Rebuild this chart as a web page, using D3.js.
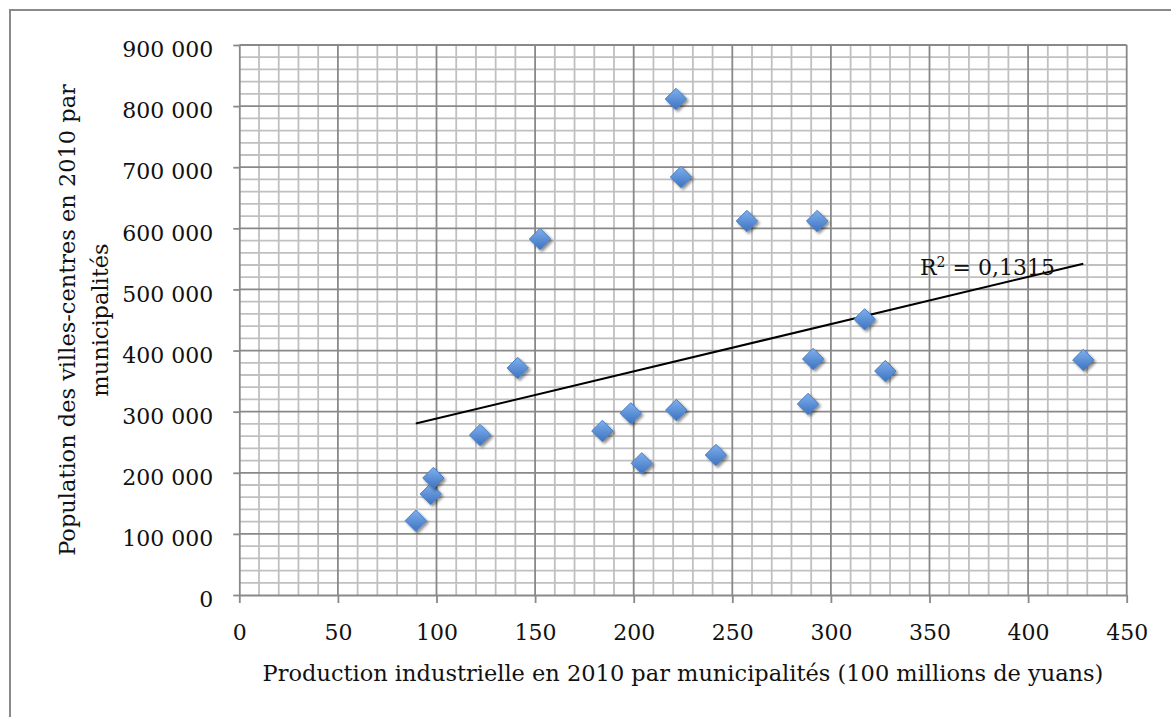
<!DOCTYPE html>
<html>
<head>
<meta charset="utf-8">
<script src="https://cdn.jsdelivr.net/npm/d3@7"></script>
<style>
  html, body { margin: 0; padding: 0; background: #ffffff; }
  svg { display: block; }
</style>
</head>
<body>
<svg id="chart" width="1171" height="717"></svg>
<script>
// ---- data ----
const production = [89.5, 97.1, 98.4, 122.1, 141.2, 152.5, 184.1, 198.5, 204.1, 221.4, 221.6, 224.0, 241.7, 257.4, 288.4, 291.0, 293.0, 317.1, 327.6, 428.0];
const population = [121600, 165300, 191500, 261800, 371500, 582600, 268400, 297300, 215500, 811700, 302700, 684000, 229100, 612000, 312600, 386200, 612000, 451100, 366500, 384500];
const xTicks = [0, 50, 100, 150, 200, 250, 300, 350, 400, 450];
const yTicks = [0, 100000, 200000, 300000, 400000, 500000, 600000, 700000, 800000, 900000];
const xTitle = "Production industrielle en 2010 par municipalités (100 millions de yuans)";
const yTitleLines = ["Population des villes-centres en 2010 par", "municipalités"];
const r2Label = ["R", "2", " = 0,1315"];

// ---- layout ----
const FONT = "'DejaVu Serif', serif";
const svg = d3.select("#chart");
const pL = 239.3, pR = 1126.7, pT = 45, pB = 595;
const x = d3.scaleLinear().domain([0, 450]).range([pL, pR]);
const y = d3.scaleLinear().domain([0, 900000]).range([pB, pT]);

// outer border (only top/left visible in frame)
svg.append("rect").attr("x", 10).attr("y", 10).attr("width", 1400).attr("height", 1000)
  .attr("fill", "none").attr("stroke", "#8a8a8a").attr("stroke-width", 2);

// defs
const defs = svg.append("defs");
const grad = defs.append("linearGradient").attr("id", "mk").attr("x1", 0).attr("y1", 0).attr("x2", 0).attr("y2", 1);
grad.append("stop").attr("offset", "0%").attr("stop-color", "#7fb0ee");
grad.append("stop").attr("offset", "100%").attr("stop-color", "#3d73c0");
const flt = defs.append("filter").attr("id", "sh").attr("x", "-50%").attr("y", "-50%").attr("width", "200%").attr("height", "200%");
flt.append("feGaussianBlur").attr("in", "SourceAlpha").attr("stdDeviation", 1.4).attr("result", "b");
flt.append("feOffset").attr("in", "b").attr("dx", 1.5).attr("dy", 2).attr("result", "o");
flt.append("feComponentTransfer").attr("in", "o").attr("result", "o2")
  .append("feFuncA").attr("type", "linear").attr("slope", 0.45);
const fm = flt.append("feMerge");
fm.append("feMergeNode").attr("in", "o2");
fm.append("feMergeNode").attr("in", "SourceGraphic");

// minor grid
const minorX = d3.range(0, 451, 10).filter(v => v % 50 !== 0);
const minorY = d3.range(0, 900001, 20000).filter(v => v % 100000 !== 0);
const grid = svg.append("g");
grid.selectAll(".mx").data(minorX).join("line")
  .attr("x1", d => x(d)).attr("x2", d => x(d)).attr("y1", pT).attr("y2", pB)
  .attr("stroke", "#c0c0c0").attr("stroke-width", 1.8);
grid.selectAll(".my").data(minorY).join("line")
  .attr("x1", pL).attr("x2", pR).attr("y1", d => y(d)).attr("y2", d => y(d))
  .attr("stroke", "#c0c0c0").attr("stroke-width", 1.8);
// major grid
grid.selectAll(".Mx").data(xTicks.slice(1)).join("line")
  .attr("x1", d => x(d)).attr("x2", d => x(d)).attr("y1", pT).attr("y2", pB)
  .attr("stroke", "#898989").attr("stroke-width", 1.8);
grid.selectAll(".My").data(yTicks.slice(1)).join("line")
  .attr("x1", pL).attr("x2", pR).attr("y1", d => y(d)).attr("y2", d => y(d))
  .attr("stroke", "#898989").attr("stroke-width", 1.8);

// axes
const fmt = v => d3.format(",")(v).replace(/,/g, " ");
const yAxis = svg.append("g").attr("transform", `translate(${pL},0)`)
  .call(d3.axisLeft(y).tickValues(yTicks).tickFormat(fmt).tickSize(6).tickPadding(20).tickSizeOuter(0));
const xAxis = svg.append("g").attr("transform", `translate(0,${pB})`)
  .call(d3.axisBottom(x).tickValues(xTicks).tickSize(8).tickSizeOuter(0));
[yAxis, xAxis].forEach(a => {
  a.select(".domain").attr("stroke", "#898989").attr("stroke-width", 1.8);
  a.selectAll(".tick line").attr("stroke", "#898989").attr("stroke-width", 1.8);
  a.selectAll("text").attr("font-family", FONT).attr("font-size", 22).attr("fill", "#111");
});
yAxis.selectAll("text").attr("dy", "0.53em");
xAxis.selectAll("text").attr("y", 45).attr("dy", 0);

// trendline (least squares)
const n = production.length;
const mx = d3.mean(production), my = d3.mean(population);
let sxy = 0, sxx = 0;
for (let i = 0; i < n; i++) { sxy += (production[i] - mx) * (population[i] - my); sxx += (production[i] - mx) ** 2; }
const slope = sxy / sxx, icpt = my - slope * mx;
const xa = d3.min(production), xb = d3.max(production);
svg.append("line")
  .attr("x1", x(xa)).attr("y1", y(icpt + slope * xa))
  .attr("x2", x(xb)).attr("y2", y(icpt + slope * xb))
  .attr("stroke", "#000").attr("stroke-width", 2);

// markers
const sym = d3.symbol().type(d3.symbolDiamond2).size(290);
svg.append("g").selectAll("path").data(production).join("path")
  .attr("d", sym)
  .attr("transform", (d, i) => `translate(${x(d)},${y(population[i])})`)
  .attr("fill", "url(#mk)").attr("stroke", "#4a7ec4").attr("stroke-width", 1)
  .attr("filter", "url(#sh)");

// R2 label
const r2 = svg.append("text").attr("x", 920).attr("y", 275)
  .attr("font-family", FONT).attr("font-size", 22).attr("fill", "#111");
r2.append("tspan").text(r2Label[0]);
r2.append("tspan").text(r2Label[1]).attr("font-size", 14).attr("dy", -8);
r2.append("tspan").text(r2Label[2]).attr("dy", 8);

// axis titles
const xt = svg.append("text").attr("x", (pL + pR) / 2).attr("y", 681)
  .attr("text-anchor", "middle").attr("font-family", FONT).attr("font-size", 22)
  .attr("fill", "#111").text(xTitle);
const tw = xt.node().getComputedTextLength();
const titleSize = 22 * 841 / tw;
xt.attr("font-size", titleSize);

const yt = svg.append("g").attr("transform", `translate(0,${(pT + pB) / 2}) rotate(-90)`);
yTitleLines.forEach((t, i) => {
  yt.append("text").attr("x", 0).attr("y", 75 + i * 33)
    .attr("text-anchor", "middle").attr("font-family", FONT).attr("font-size", titleSize)
    .attr("fill", "#111").text(t);
});
</script>
</body>
</html>
